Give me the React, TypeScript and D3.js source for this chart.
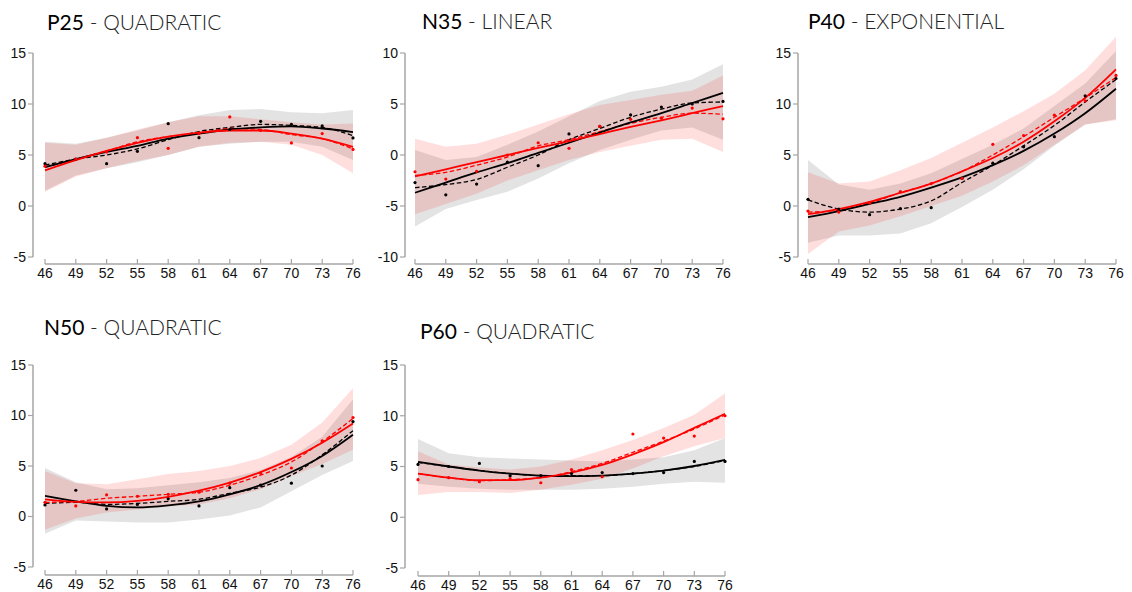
import React from 'react';
import * as d3 from 'd3';

// ages on the x axis
const ages = [46, 49, 52, 55, 58, 61, 64, 67, 70, 73, 76];

// P25 - quadratic
const p25BlackPts = [4.15, 4.6, 4.15, 5.36, 8.07, 6.7, 7.5, 8.3, 8.0, 7.85, 6.67];
const p25RedPts = [3.9, 4.6, 5.3, 6.7, 5.65, 7.1, 8.73, 7.4, 6.18, 7.1, 5.55];
const p25BlackFit = [3.8, 4.6, 5.3, 5.9, 6.6, 7.1, 7.5, 7.7, 7.8, 7.6, 7.25];
const p25RedFit = [3.5, 4.5, 5.4, 6.2, 6.8, 7.2, 7.4, 7.4, 7.1, 6.6, 5.8];
const p25BlackDash = [4.0, 4.6, 5.0, 5.6, 6.5, 7.3, 7.7, 8.0, 7.9, 7.7, 6.9];
const p25RedDash = [3.8, 4.6, 5.4, 6.3, 6.8, 7.1, 7.6, 7.5, 7.0, 6.6, 5.6];
const p25GrayHi = [6.3, 6.1, 6.7, 7.4, 8.2, 8.9, 9.4, 9.5, 9.2, 9.1, 9.4];
const p25GrayLo = [1.5, 3.0, 3.7, 4.3, 5.0, 5.8, 6.1, 6.3, 6.3, 5.8, 4.5];
const p25PinkHi = [6.2, 6.0, 6.7, 7.5, 8.2, 8.8, 8.8, 8.5, 8.2, 8.0, 8.1];
const p25PinkLo = [1.4, 2.9, 3.7, 4.4, 5.0, 5.8, 6.2, 6.3, 6.0, 5.0, 3.2];

// N35 - linear
const n35BlackPts = [-2.7, -3.9, -2.85, -0.7, -1.05, 2.07, 2.8, 3.93, 4.7, 5.0, 5.25];
const n35RedPts = [-1.64, -2.36, -1.6, 0.0, 1.2, 0.65, 2.8, 3.5, 3.6, 4.6, 3.55];
const n35BlackFit = [-3.7, -2.7, -1.7, -0.8, 0.2, 1.2, 2.2, 3.2, 4.1, 5.1, 6.1];
const n35RedFit = [-2.1, -1.4, -0.7, 0.0, 0.7, 1.35, 2.05, 2.75, 3.4, 4.1, 4.8];
const n35BlackDash = [-3.2, -2.9, -2.4, -1.2, 0.0, 1.5, 2.6, 3.7, 4.5, 5.1, 5.2];
const n35RedDash = [-2.0, -1.7, -1.0, -0.2, 0.9, 1.5, 2.3, 3.1, 3.7, 4.1, 4.0];
const n35GrayHi = [0.5, -0.5, -0.2, 1.0, 2.3, 3.8, 5.3, 6.2, 6.7, 7.4, 8.9];
const n35GrayLo = [-7.0, -5.3, -4.4, -3.6, -2.3, -0.8, 0.5, 1.5, 2.4, 2.7, 1.5];
const n35PinkHi = [1.6, 0.8, 1.1, 2.0, 3.0, 4.0, 4.9, 5.4, 5.9, 6.3, 7.8];
const n35PinkLo = [-5.8, -4.8, -3.8, -2.5, -1.5, -0.5, 0.3, 0.9, 1.5, 1.6, 0.3];

// P40 - exponential
const p40BlackPts = [0.65, -0.3, -0.85, -0.26, -0.16, 2.7, 4.2, 5.8, 6.8, 10.8, 12.5];
const p40RedPts = [-0.5, -0.6, 0.3, 1.4, 2.2, 2.7, 6.05, 6.9, 8.9, 10.3, 12.8];
const p40BlackFit = [-1.1, -0.5, 0.2, 0.9, 1.8, 2.8, 4.0, 5.4, 7.1, 9.1, 11.5];
const p40RedFit = [-0.8, -0.3, 0.4, 1.3, 2.2, 3.4, 4.7, 6.3, 8.3, 10.6, 13.4];
const p40BlackDash = [0.6, -0.3, -0.6, -0.3, 0.5, 2.3, 4.0, 5.9, 7.9, 10.2, 12.4];
const p40RedDash = [-0.6, -0.4, 0.3, 1.3, 2.2, 3.4, 5.0, 6.8, 8.7, 10.6, 12.6];
const p40GrayHi = [4.5, 2.1, 1.6, 2.2, 3.2, 4.6, 6.0, 7.6, 9.8, 12.0, 15.2];
const p40GrayLo = [-3.6, -2.9, -2.9, -2.7, -1.7, -0.1, 1.6, 3.6, 5.9, 8.0, 8.5];
const p40PinkHi = [3.3, 2.2, 2.4, 3.5, 4.7, 6.2, 7.7, 9.3, 11.0, 13.3, 16.6];
const p40PinkLo = [-4.7, -2.5, -1.9, -1.0, 0.0, 1.0, 2.4, 4.0, 6.0, 8.0, 8.4];

// N50 - quadratic
const n50BlackPts = [1.15, 2.6, 0.75, 1.2, 1.75, 1.05, 2.85, 3.1, 3.3, 5.0, 9.4];
const n50RedPts = [1.4, 1.05, 2.15, 2.0, 2.2, 2.4, 3.3, 4.3, 4.8, 7.5, 9.8];
const n50BlackFit = [2.05, 1.5, 1.05, 0.9, 1.1, 1.5, 2.2, 3.1, 4.4, 6.0, 8.1];
const n50RedFit = [1.7, 1.45, 1.4, 1.55, 1.95, 2.55, 3.35, 4.4, 5.7, 7.3, 9.2];
const n50BlackDash = [1.3, 1.4, 1.2, 1.3, 1.5, 1.7, 2.3, 2.9, 4.1, 6.1, 8.5];
const n50RedDash = [1.4, 1.5, 1.8, 2.0, 2.2, 2.4, 3.1, 4.1, 5.4, 7.4, 9.7];
const n50GrayHi = [4.8, 3.4, 2.7, 2.8, 3.1, 3.4, 3.8, 4.6, 5.9, 7.9, 11.6];
const n50GrayLo = [-1.7, -0.4, -0.5, -0.6, -0.6, -0.3, 0.1, 0.9, 2.5, 4.1, 5.5];
const n50PinkHi = [4.5, 3.3, 3.2, 3.7, 4.2, 4.5, 5.0, 5.8, 7.1, 9.3, 12.7];
const n50PinkLo = [-1.3, -0.2, 0.4, 0.7, 1.0, 1.2, 1.8, 2.7, 4.0, 5.2, 6.6];

// P60 - quadratic
const p60BlackPts = [5.2, 5.0, 5.3, 4.1, 4.1, 4.3, 4.4, 4.3, 4.4, 5.5, 5.5];
const p60RedPts = [3.7, 3.9, 3.5, 3.8, 3.4, 4.7, 4.0, 8.2, 7.8, 8.0, 10.0];
const p60BlackFit = [5.45, 5.0, 4.6, 4.3, 4.1, 4.05, 4.1, 4.3, 4.6, 5.05, 5.65];
const p60RedFit = [4.3, 3.9, 3.65, 3.65, 3.9, 4.4, 5.15, 6.2, 7.4, 8.8, 10.2];
const p60BlackDash = [5.4, 5.0, 4.6, 4.3, 4.1, 4.1, 4.1, 4.3, 4.6, 5.0, 5.6];
const p60RedDash = [4.3, 3.9, 3.6, 3.7, 3.9, 4.5, 5.3, 6.4, 7.5, 8.7, 10.1];
const p60GrayHi = [7.7, 6.3, 5.9, 5.8, 5.7, 5.6, 5.5, 5.7, 5.9, 6.6, 7.8];
const p60GrayLo = [3.3, 3.0, 2.8, 2.7, 2.7, 2.7, 2.8, 3.0, 3.3, 3.5, 3.4];
const p60PinkHi = [6.5, 5.2, 4.9, 4.7, 5.0, 5.7, 6.6, 7.6, 8.8, 10.1, 12.2];
const p60PinkLo = [2.2, 2.5, 2.5, 2.4, 2.7, 3.2, 3.8, 4.8, 6.0, 7.0, 7.8];

const ticks15 = [-5, 0, 5, 10, 15];
const ticks10 = [-10, -5, 0, 5, 10];

const panels = [
  {
    name: 'P25', kind: 'QUADRATIC', tx: 47, ty: 30, ax: 33, x0: 45, x1: 353, y0: 257, y1: 53, xAxisY: 264,
    domain: [-5, 15], ticks: ticks15,
    black: { pts: p25BlackPts, fit: p25BlackFit, dash: p25BlackDash, lo: p25GrayLo, hi: p25GrayHi },
    red: { pts: p25RedPts, fit: p25RedFit, dash: p25RedDash, lo: p25PinkLo, hi: p25PinkHi },
  },
  {
    name: 'N35', kind: 'LINEAR', tx: 422, ty: 29, ax: 405, x0: 415, x1: 723, y0: 257, y1: 53, xAxisY: 264,
    domain: [-10, 10], ticks: ticks10,
    black: { pts: n35BlackPts, fit: n35BlackFit, dash: n35BlackDash, lo: n35GrayLo, hi: n35GrayHi },
    red: { pts: n35RedPts, fit: n35RedFit, dash: n35RedDash, lo: n35PinkLo, hi: n35PinkHi },
  },
  {
    name: 'P40', kind: 'EXPONENTIAL', tx: 808, ty: 29, ax: 798, x0: 808, x1: 1116, y0: 257, y1: 53, xAxisY: 264,
    domain: [-5, 15], ticks: ticks15,
    black: { pts: p40BlackPts, fit: p40BlackFit, dash: p40BlackDash, lo: p40GrayLo, hi: p40GrayHi },
    red: { pts: p40RedPts, fit: p40RedFit, dash: p40RedDash, lo: p40PinkLo, hi: p40PinkHi },
  },
  {
    name: 'N50', kind: 'QUADRATIC', tx: 44, ty: 335, ax: 33, x0: 45, x1: 353, y0: 567, y1: 365, xAxisY: 575,
    domain: [-5, 15], ticks: ticks15,
    black: { pts: n50BlackPts, fit: n50BlackFit, dash: n50BlackDash, lo: n50GrayLo, hi: n50GrayHi },
    red: { pts: n50RedPts, fit: n50RedFit, dash: n50RedDash, lo: n50PinkLo, hi: n50PinkHi },
  },
  {
    name: 'P60', kind: 'QUADRATIC', tx: 420, ty: 339, ax: 405, x0: 418, x1: 725, y0: 568, y1: 365, xAxisY: 576,
    domain: [-5, 15], ticks: ticks15,
    black: { pts: p60BlackPts, fit: p60BlackFit, dash: p60BlackDash, lo: p60GrayLo, hi: p60GrayHi },
    red: { pts: p60RedPts, fit: p60RedFit, dash: p60RedDash, lo: p60PinkLo, hi: p60PinkHi },
  },
];

const axisColor = '#a6a6a6';
const tickFont = 'Liberation Sans, Arial, sans-serif';

function Panel({ p }: { p: any }) {
  const x = d3.scaleLinear().domain([46, 76]).range([p.x0, p.x1]);
  const y = d3.scaleLinear().domain(p.domain).range([p.y0, p.y1]);

  const line = (vals: number[]) =>
    d3.line<number>()
      .x((_, i) => x(ages[i]))
      .y(v => y(v))
      .curve(d3.curveMonotoneX)(vals) || '';

  const band = (lo: number[], hi: number[]) =>
    d3.area<number>()
      .x(i => x(ages[i]))
      .y0(i => y(lo[i]))
      .y1(i => y(hi[i]))(d3.range(ages.length)) || '';

  return (
    <g>
      <text x={p.tx} y={p.ty} fontFamily="Lato, 'Open Sans', sans-serif" fontSize={21}>
        <tspan fill="#000">{p.name}</tspan>
        <tspan fill="#222" fontWeight={300}>{' - ' + p.kind}</tspan>
      </text>

      <path d={band(p.black.lo, p.black.hi)} fill="#e3e3e3" />
      <path d={band(p.red.lo, p.red.hi)} fill="rgba(255,0,0,0.13)" />

      <path d={line(p.black.dash)} fill="none" stroke="#000" strokeWidth={1.3} strokeDasharray="4.5 2.5" />
      <path d={line(p.red.dash)} fill="none" stroke="#ff0000" strokeWidth={1.3} strokeDasharray="4.5 2.5" />
      <path d={line(p.black.fit)} fill="none" stroke="#000" strokeWidth={1.8} />
      <path d={line(p.red.fit)} fill="none" stroke="#ff0000" strokeWidth={1.8} />

      {p.black.pts.map((v: number, i: number) => (
        <circle key={'b' + i} cx={x(ages[i])} cy={y(v)} r={1.6} fill="#000" />
      ))}
      {p.red.pts.map((v: number, i: number) => (
        <circle key={'r' + i} cx={x(ages[i])} cy={y(v)} r={1.6} fill="#ff0000" />
      ))}

      {/* y axis */}
      <line x1={p.ax} x2={p.ax} y1={p.y1} y2={p.y0} stroke={axisColor} strokeWidth={1.5} />
      {p.ticks.map((t: number) => (
        <g key={'yt' + t}>
          <line x1={p.ax - 5} x2={p.ax} y1={y(t)} y2={y(t)} stroke={axisColor} strokeWidth={1.2} />
          <text x={p.ax - 7} y={y(t)} dy="0.35em" textAnchor="end" fontFamily={tickFont} fontSize={14} fill="#111">
            {t}
          </text>
        </g>
      ))}

      {/* x axis */}
      <line x1={x(46)} x2={x(76)} y1={p.xAxisY} y2={p.xAxisY} stroke={axisColor} strokeWidth={1.5} />
      {ages.map(a => (
        <g key={'xt' + a}>
          <line x1={x(a)} x2={x(a)} y1={p.xAxisY} y2={p.xAxisY - 5} stroke={axisColor} strokeWidth={1.2} />
          <text x={x(a)} y={p.xAxisY + 14} textAnchor="middle" fontFamily={tickFont} fontSize={14} fill="#111">
            {a}
          </text>
        </g>
      ))}
    </g>
  );
}

export default function App() {
  return (
    <svg width={1132} height={592} style={{ position: 'absolute', left: 0, top: 0, background: '#fff' }}>
      {panels.map(p => (
        <Panel key={p.name} p={p} />
      ))}
    </svg>
  );
}
